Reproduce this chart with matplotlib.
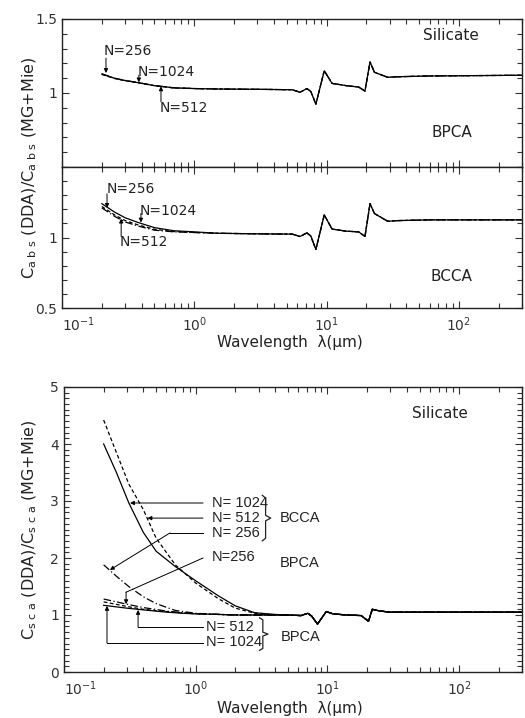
import numpy as np
import matplotlib
matplotlib.use("Agg")
import matplotlib.pyplot as plt
from matplotlib.ticker import MultipleLocator, FixedLocator, LogLocator, NullFormatter

plt.rcParams["font.family"] = ["DejaVu Sans"]
plt.rcParams["mathtext.fontset"] = "dejavusans"

# ------------------------------------------------------------
# datos
# ------------------------------------------------------------
# C_abs(DDA)/C_abs(MG+Mie), tramo común de longitudes de onda largas
abs_cola_x = [1.5, 3.0, 5.5, 6.3, 7.1, 7.6, 8.3, 9.6, 11.0, 14.0, 17.5, 19.5, 21.3, 23.0, 29.0, 35.0, 60.0, 300.0]
bpca_abs_cola = [1.027, 1.025, 1.022, 1.005, 1.03, 1.01, 0.925, 1.15, 1.065, 1.05, 1.04, 1.013, 1.21, 1.14, 1.106, 1.11, 1.115, 1.12]
bcca_abs_cola = [1.03, 1.026, 1.024, 1.007, 1.033, 1.01, 0.915, 1.16, 1.06, 1.045, 1.04, 1.007, 1.24, 1.17, 1.115, 1.12, 1.125, 1.125]

abs_corta_x = [0.2, 0.25, 0.3, 0.38, 0.5, 0.7, 1.0]
bpca_abs_256 = [1.13, 1.10, 1.085, 1.07, 1.05, 1.035, 1.03]
bpca_abs_512 = [1.125, 1.098, 1.083, 1.068, 1.049, 1.034, 1.03]
bpca_abs_1024 = [1.128, 1.099, 1.084, 1.069, 1.05, 1.035, 1.03]
bcca_abs_1024 = [1.24, 1.18, 1.14, 1.105, 1.07, 1.048, 1.04]
bcca_abs_512 = [1.22, 1.16, 1.12, 1.088, 1.058, 1.042, 1.036]
bcca_abs_256 = [1.21, 1.15, 1.11, 1.08, 1.052, 1.04, 1.035]

# C_sca(DDA)/C_sca(MG+Mie)
sca_cola_x = [5.0, 6.3, 7.1, 7.6, 8.4, 9.8, 11.0, 14.0, 18.0, 20.5, 21.9, 25.0, 30.0, 50.0, 100.0, 300.0]
sca_cola = [1.0, 0.99, 1.03, 0.98, 0.84, 1.06, 1.02, 1.0, 0.99, 0.89, 1.10, 1.07, 1.05, 1.05, 1.05, 1.05]

bcca_sca_x = [0.2, 0.25, 0.31, 0.4, 0.5, 0.7, 1.0, 1.5, 2.0, 2.8, 4.0]
bcca_sca_1024 = [4.0, 3.5, 2.97, 2.45, 2.12, 1.85, 1.6, 1.33, 1.16, 1.04, 1.01]
bcca_sca_512 = [4.42, 3.85, 3.3, 2.85, 2.35, 1.88, 1.56, 1.28, 1.12, 1.03, 1.0]
bcca_sca_256 = [1.88, 1.68, 1.5, 1.32, 1.2, 1.08, 1.03, 1.01, 1.0, 1.0, 1.0]

bpca_sca_x = [0.2, 0.3, 0.4, 0.6, 0.8, 1.0, 1.5, 2.0, 2.8, 4.0]
bpca_sca_1024 = [1.17, 1.12, 1.09, 1.05, 1.03, 1.02, 1.01, 1.0, 1.0, 1.0]
bpca_sca_512 = [1.23, 1.15, 1.10, 1.06, 1.035, 1.02, 1.01, 1.0, 1.0, 1.0]
bpca_sca_256 = [1.28, 1.19, 1.13, 1.07, 1.04, 1.025, 1.01, 1.0, 1.0, 1.0]

decadas = [0.1, 1, 10, 100]
decadas_txt = [r"$10^{-1}$", r"$10^{0}$", r"$10^{1}$", r"$10^{2}$"]

ESTILOS = {"1024": "-", "512": (0, (3, 2)), "256": (0, (6, 2, 1, 2))}

# ------------------------------------------------------------
# figura
# ------------------------------------------------------------
fig = plt.figure(figsize=(5.25, 7.18), dpi=100)
W, H = 525.0, 718.0


def caja(x0, y0, x1, y1):
    return [x0 / W, 1 - y1 / H, (x1 - x0) / W, (y1 - y0) / H]


ax1 = fig.add_axes(caja(62, 19, 522, 167))
ax2 = fig.add_axes(caja(62, 167, 522, 308))
ax3 = fig.add_axes(caja(64, 387, 522, 672))


def formato(ax, etiquetas_x=True):
    ax.set_xscale("log")
    ax.set_xlim(0.1, 300)
    ax.set_xticks(decadas, decadas_txt)
    ax.xaxis.set_minor_locator(LogLocator(base=10, subs=np.arange(2, 10), numticks=10))
    ax.xaxis.set_minor_formatter(NullFormatter())
    ax.yaxis.set_minor_locator(MultipleLocator(0.1))
    ax.tick_params(which="both", direction="in", top=True, right=True,
                   labelsize=10, width=0.8, colors="#333333")
    ax.tick_params(which="major", length=5)
    ax.tick_params(which="minor", length=3.5)
    ax.tick_params(axis="x", pad=5)
    if not etiquetas_x:
        ax.tick_params(labelbottom=False)
    else:
        # la primera etiqueta queda a la derecha del eje, como en el original
        ax.get_xticklabels()[0].set_horizontalalignment("left")
    for s in ax.spines.values():
        s.set_linewidth(1.0)
        s.set_color("#222222")


def traza(ax, xs, ys, clave):
    ax.plot(xs, ys, color="black", lw=0.9, linestyle=ESTILOS[clave])


def llave(ax, x0, y_arriba, y_abajo):
    # llave "}" dibujada con líneas (eje x logarítmico)
    ym = 0.5 * (y_arriba + y_abajo)
    d = 0.06 * (y_arriba - y_abajo)
    x1, x2 = x0 * 1.06, x0 * 1.16
    ax.plot([x0, x1, x1, x2, x1, x1, x0],
            [y_arriba, y_arriba - d, ym + d, ym, ym - d, y_abajo + d, y_abajo],
            color="#222222", lw=0.9)


# --- panel superior: BPCA absorción
traza(ax1, abs_corta_x + abs_cola_x, bpca_abs_256 + bpca_abs_cola, "256")
traza(ax1, abs_corta_x + abs_cola_x, bpca_abs_512 + bpca_abs_cola, "512")
traza(ax1, abs_corta_x + abs_cola_x, bpca_abs_1024 + bpca_abs_cola, "1024")
formato(ax1, etiquetas_x=False)
ax1.set_ylim(0.5, 1.5)
ax1.yaxis.set_major_locator(FixedLocator([1.0, 1.5]))
ax1.set_yticklabels(["1", "1.5"])

# --- panel medio: BCCA absorción
traza(ax2, abs_corta_x + abs_cola_x, bcca_abs_256 + bcca_abs_cola, "256")
traza(ax2, abs_corta_x + abs_cola_x, bcca_abs_512 + bcca_abs_cola, "512")
traza(ax2, abs_corta_x + abs_cola_x, bcca_abs_1024 + bcca_abs_cola, "1024")
formato(ax2)
ax2.set_ylim(0.5, 1.5)
ax2.yaxis.set_major_locator(FixedLocator([0.5, 1.0]))
ax2.set_yticklabels(["0.5", "1"])

# --- figura inferior: scattering
traza(ax3, bcca_sca_x + sca_cola_x, bcca_sca_1024 + sca_cola, "1024")
traza(ax3, bcca_sca_x + sca_cola_x, bcca_sca_512 + sca_cola, "512")
traza(ax3, bcca_sca_x + sca_cola_x, bcca_sca_256 + sca_cola, "256")
traza(ax3, bpca_sca_x + sca_cola_x, bpca_sca_1024 + sca_cola, "1024")
traza(ax3, bpca_sca_x + sca_cola_x, bpca_sca_512 + sca_cola, "512")
traza(ax3, bpca_sca_x + sca_cola_x, bpca_sca_256 + sca_cola, "256")
formato(ax3)
ax3.set_ylim(0, 5)
ax3.yaxis.set_major_locator(MultipleLocator(1))

# ------------------------------------------------------------
# textos y flechas
# ------------------------------------------------------------
FLECHA = dict(arrowstyle="-|>", color="black", lw=0.7, mutation_scale=6, shrinkA=0, shrinkB=0)
txt = dict(fontsize=10, color="#222222", va="center")

ax1.text(87, 1.39, "Silicate", ha="center", fontsize=11, color="#222222", va="center")
ax1.text(88, 0.73, "BPCA", ha="center", fontsize=11, color="#222222", va="center")
ax2.text(88, 0.72, "BCCA", ha="center", fontsize=11, color="#222222", va="center")

ax1.text(0.207, 1.284, "N=256", **txt)
ax1.annotate("", xy=(0.215, 1.135), xytext=(0.215, 1.236), arrowprops=FLECHA)
ax1.text(0.375, 1.142, "N=1024", **txt)
ax1.annotate("", xy=(0.381, 1.072), xytext=(0.381, 1.12), arrowprops=FLECHA)
ax1.text(0.551, 0.899, "N=512", **txt)
ax1.annotate("", xy=(0.56, 1.045), xytext=(0.56, 0.94), arrowprops=FLECHA)

ax2.text(0.219, 1.345, "N=256", **txt)
ax2.annotate("", xy=(0.219, 1.21), xytext=(0.219, 1.31), arrowprops=FLECHA)
ax2.text(0.389, 1.19, "N=1024", **txt)
ax2.annotate("", xy=(0.395, 1.106), xytext=(0.395, 1.17), arrowprops=FLECHA)
ax2.text(0.274, 0.965, "N=512", **txt)
ax2.annotate("", xy=(0.28, 1.134), xytext=(0.28, 1.007), arrowprops=FLECHA)

fig.text(30 / W, 1 - 168 / H, r"C$_{\rm a\ b\ s}$ (DDA)/C$_{\rm a\ b\ s}$ (MG+Mie)",
         rotation=90, ha="center", va="center", fontsize=11.5, color="#222222")
fig.text(290 / W, 1 - 343 / H, r"Wavelength  λ(μm)", ha="center", va="center",
         fontsize=11, color="#222222")

# inferior
estr = dict(family=["Liberation Sans"], fontsize=10.5,
            color="#222222", va="center")
ax3.text(72, 4.54, "Silicate", ha="center", fontsize=11, color="#222222", va="center")

ax3.text(1.33, 2.965, "N= 1024", **estr)
ax3.text(1.33, 2.70, "N= 512", **estr)
ax3.text(1.33, 2.44, "N= 256", **estr)
llave(ax3, 3.2, 3.1, 2.3)
ax3.text(4.37, 2.70, "BCCA", **estr)

ax3.annotate("", xy=(0.317, 2.965), xytext=(1.136, 2.965), arrowprops=FLECHA)
ax3.annotate("", xy=(0.43, 2.70), xytext=(1.136, 2.70), arrowprops=FLECHA)
ax3.plot([1.136, 0.638], [2.44, 2.44], color="black", lw=0.7)
ax3.annotate("", xy=(0.223, 1.79), xytext=(0.638, 2.44), arrowprops=FLECHA)

ax3.text(1.33, 2.02, "N=256", **estr)
ax3.text(4.37, 1.91, "BPCA", **estr)
ax3.plot([1.136, 0.296], [2.0, 1.40], color="black", lw=0.7)
ax3.annotate("", xy=(0.296, 1.19), xytext=(0.296, 1.40), arrowprops=FLECHA)

ax3.text(1.2, 0.79, "N= 512", **estr)
ax3.text(1.2, 0.53, "N= 1024", **estr)
llave(ax3, 3.05, 0.95, 0.38)
ax3.text(4.4, 0.61, "BPCA", **estr)
ax3.plot([1.136, 0.365], [0.79, 0.79], color="black", lw=0.7)
ax3.annotate("", xy=(0.365, 1.09), xytext=(0.365, 0.79), arrowprops=FLECHA)
ax3.plot([1.136, 0.212], [0.51, 0.51], color="black", lw=0.7)
ax3.annotate("", xy=(0.212, 1.16), xytext=(0.212, 0.51), arrowprops=FLECHA)

fig.text(30 / W, 1 - 530 / H, r"C$_{\rm s\ c\ a}$ (DDA)/C$_{\rm s\ c\ a}$ (MG+Mie)",
         rotation=90, ha="center", va="center", fontsize=11.5, color="#222222")
fig.text(290 / W, 1 - 708 / H, r"Wavelength  λ(μm)", ha="center", va="center",
         fontsize=11, color="#222222")

fig.savefig("out.png", dpi=100)
